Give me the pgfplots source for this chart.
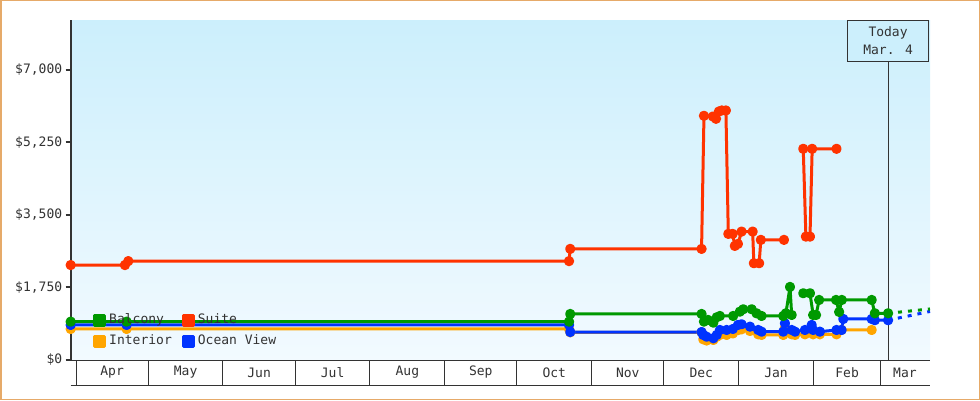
\documentclass[border=0pt]{standalone}
\usepackage{pgfplots}
\pgfplotsset{compat=1.18}
\usepackage{fontspec}
\setmainfont{DejaVu Sans Mono}
\definecolor{cgreen}{RGB}{0,153,0}
\definecolor{cred}{RGB}{255,51,0}
\definecolor{cblue}{RGB}{0,51,255}
\definecolor{corange}{RGB}{255,165,0}
\definecolor{framec}{RGB}{230,170,105}
\definecolor{axgray}{RGB}{51,51,51}
\definecolor{bgtop}{RGB}{204,239,252}
\definecolor{bgbot}{RGB}{242,250,255}
\begin{document}
\begin{tikzpicture}[x=1pt,y=1pt]
\useasboundingbox (0,0) rectangle (980,400);
\fill[white] (0,0) rectangle (980,400);
\begin{axis}[
  at={(70.7pt,40pt)}, anchor=south west,
  scale only axis, width=859.3pt, height=340pt,
  xmin=-2.2, xmax=354.4, ymin=0, ymax=8200,
  clip=false,
  axis line style={draw=none},
  axis background/.style={top color=bgtop, bottom color=bgbot},
  ytick={0,1750,3500,5250,7000},
  yticklabels={{\$0},{\$1,750},{\$3,500},{\$5,250},{\$7,000}},
  ytick pos=left,
  ytick align=outside,
  major tick length=5pt,
  ytick style={draw=axgray, line width=2pt},
  xtick={15,45.5,76,106.5,137.5,168,198.5,229,259.5,290.5,320,344},
  xticklabels={Apr,May,Jun,Jul,Aug,Sep,Oct,Nov,Dec,Jan,Feb,Mar},
  xtick style={draw=none},
  xtick pos=bottom,
  xticklabel style={anchor=center, yshift=-12.5pt},
  tick label style={font=\fontsize{13}{13}\selectfont, text=axgray},
  unbounded coords=jump,
  every axis plot/.append style={line width=3pt, mark=*, mark size=3.6pt, line join=round},
  legend image code/.code={\fill[#1] (0pt,-5pt) rectangle (10pt,5pt);},
  legend columns=2,
  legend cell align=left,
  legend style={at={(0.026,0.146)}, anchor=north west, draw=none, fill=none,
    inner sep=0pt, font=\fontsize{13}{15}\selectfont,
    nodes={inner sep=3pt, text height=10pt, text depth=3pt, text=axgray},
    /tikz/every even column/.append style={column sep=7pt}, row sep=2pt},
]
% month band
\draw[axgray, line width=1pt] (rel axis cs:0,0) -- (rel axis cs:1,0);
\draw[axgray, line width=1pt] ([yshift=-25pt]rel axis cs:0,0) -- ([yshift=-25pt]rel axis cs:1,0);
\pgfplotsinvokeforeach{0,30,61,91,122,153,183,214,244,275,306,334}{
  \draw[axgray, line width=1pt] (axis cs:#1,0) -- ([yshift=-25pt]axis cs:#1,0);
}
% Today line
\draw[axgray, line width=1pt] (axis cs:337,0) -- (axis cs:337,8200);

% Interior
\addplot[color=corange, forget plot] coordinates {
(-2.2,748) (21,748) (204.6,748) (205.1,668) (259.6,668) (260.3,500) (261.7,470)
(264.5,483) (265.9,560) (267.2,604) (270,604) (272.6,640) (274.7,720) (276.2,740)
(279.7,700) (283.1,620) (284.5,604) (293.5,604) (294.2,780) (297,620) (298.4,604)
(302.5,620) (305.3,720) (305.9,620) (308.7,620) (315.6,620) (317.7,724) (330.2,724)};
% Ocean View
\addplot[color=cblue, forget plot] coordinates {
(-2.2,845) (21,845) (204.6,845) (205.1,675) (259.6,675) (260.3,604) (261.7,562)
(264.5,524) (265.9,604) (267.2,724) (270,724) (272.6,748) (274.7,845) (276.2,862)
(279.7,804) (283.1,724) (284.5,683) (293.5,683) (294.2,886) (297,724) (298.4,683)
(302.5,724) (305.3,845) (305.9,724) (308.7,683) (315.6,724) (317.7,724) (318.4,990)
(330.2,990) (331.5,960) (337,960)};
\addplot[color=cblue, dashed, dash pattern=on 4pt off 6pt, mark=none, forget plot] coordinates {(337,960) (354.4,1171)};
% Balcony
\addplot[color=cgreen, forget plot] coordinates {
(-2.2,925) (21,925) (204.6,925) (205.1,1110) (259.6,1110) (260.6,925) (262.3,966)
(264.5,901) (265.9,1031) (267.2,1062) (272.7,1062) (275.5,1166) (276.9,1224)
(280.4,1224) (282.4,1127) (284.5,1062) (293.5,1062) (294.6,1127) (296.3,1762)
(297,1086) (299,nan) (301.8,1610) (304.6,1610) (305.9,1086) (307.1,1086)
(308.4,1448) (315.4,1448) (316.7,1159) (317.8,1448) (330.2,1448) (331.5,1127) (337,1127)};
\addplot[color=cgreen, dashed, dash pattern=on 4pt off 6pt, mark=none, forget plot] coordinates {(337,1127) (354.4,1231)};
% Suite
\addplot[color=cred, forget plot] coordinates {
(-2.2,2290) (20.3,2290) (21.7,2385) (204.6,2385) (205.1,2680) (259.6,2680)
(260.6,5890) (264.3,5873) (265.6,5818) (266.8,5994) (268.0,6018) (269.7,6018)
(270.7,3042) (272.5,3042) (273.4,2752) (274.7,2800) (276.2,3097) (280.8,3097)
(281.3,2334) (283.5,2334) (284.2,2897) (293.8,2897) (298,nan)
(301.8,5094) (302.9,2976) (304.6,2976) (305.5,5094) (315.6,5094)};

\addlegendimage{color=cgreen}\addlegendentry{Balcony}
\addlegendimage{color=cred}\addlegendentry{Suite}
\addlegendimage{color=corange}\addlegendentry{Interior}
\addlegendimage{color=cblue}\addlegendentry{Ocean View}

% left axis line
\draw[axgray, line width=2pt] (rel axis cs:0,0) -- (rel axis cs:0,1);

\node[draw=axgray, fill=bgtop, line width=1pt, minimum width=81pt, minimum height=41pt,
  align=center, anchor=north, inner sep=0pt, text=axgray,
  font=\fontsize{13}{18}\selectfont] at (axis cs:337,8200) {Today\\Mar. 4};
\end{axis}
\draw[framec, line width=1.5pt] (0.75,0.75) rectangle (979.25,399.25);
\end{tikzpicture}
\end{document}
